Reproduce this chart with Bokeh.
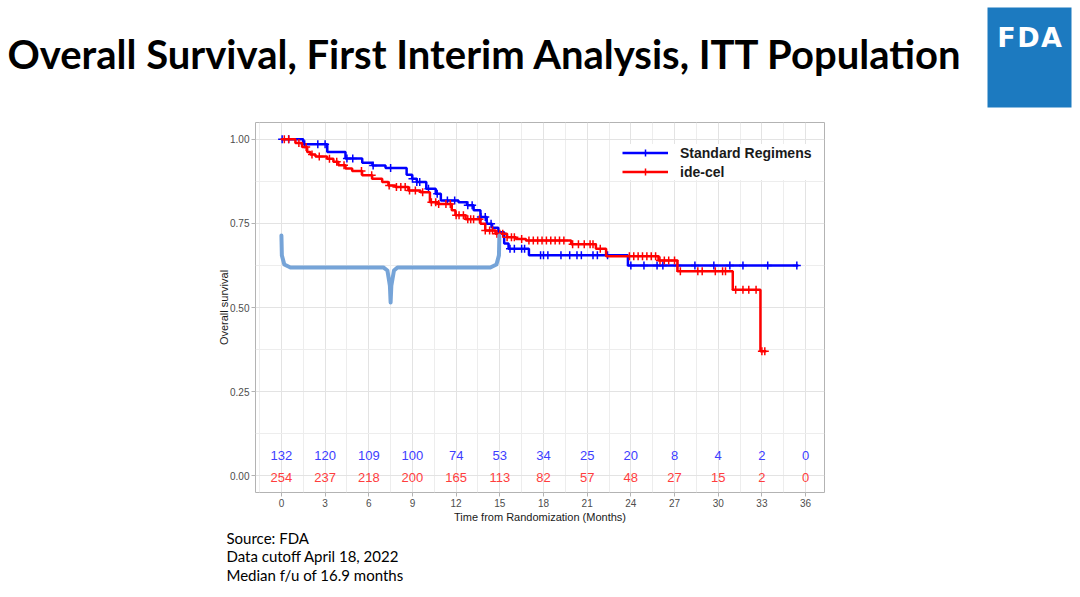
import numpy as np
from bokeh.plotting import figure
from bokeh.models import Range1d, FixedTicker, NumeralTickFormatter, Legend, LegendItem
from bokeh.layouts import column
from bokeh.embed import file_html
from bokeh.resources import INLINE
from bokeh.core.properties import value

# ---------------- data ----------------
title_text = "Overall Survival, First Interim Analysis, ITT Population"
logo_letters = ["F", "D", "A"]
source_lines = ["Source: FDA", "Data cutoff April 18, 2022", "Median f/u of 16.9 months"]

series_names = ["Standard Regimens", "ide-cel"]

std_time = [0, 1.5, 3.15, 4.4, 5.55, 6.25, 7.15, 8.6, 8.98, 9.3, 9.95, 10.6, 10.95, 12.16,
            12.75, 13.2, 13.67, 14.1, 14.47, 14.9, 15.3, 15.6, 17.0, 23.8, 35.5]
std_surv = [1.0, 0.985, 0.962, 0.943, 0.930, 0.922, 0.915, 0.895, 0.883, 0.873, 0.853, 0.838,
            0.818, 0.813, 0.804, 0.789, 0.769, 0.749, 0.737, 0.724, 0.69, 0.675, 0.655, 0.625, 0.625]
std_censor = [0.05, 0.5, 1.6, 2.5, 3.0, 4.5, 4.9, 6.3, 7.5, 9.0, 9.3, 9.5, 10.1, 10.7, 11.4,
              11.9, 12.8, 13.1, 13.7, 14.0, 14.4, 15.7, 16.0, 16.5, 16.7, 17.8, 18.0, 18.3,
              19.2, 19.8, 20.3, 20.6, 21.4, 21.7, 22.4, 24.0, 24.9, 25.8, 26.2, 27.2, 28.4,
              29.7, 30.8, 31.7, 33.4, 35.4]

ide_time = [0, 0.96, 1.42, 1.77, 1.99, 2.34, 3.14, 3.57, 3.91, 4.4, 4.86, 5.54, 6.23, 6.92,
            7.35, 7.83, 8.72, 9.55, 10.2, 10.75, 11.7, 11.95, 12.65, 13.67, 14.0, 14.7, 15.5,
            16.1, 16.8, 19.9, 21.6, 22.3, 25.9, 27.2, 31.0, 32.9, 33.3]
ide_surv = [1.0, 0.989, 0.977, 0.962, 0.955, 0.949, 0.942, 0.933, 0.923, 0.913, 0.906, 0.893,
            0.883, 0.873, 0.863, 0.858, 0.848, 0.843, 0.813, 0.808, 0.789, 0.774, 0.762, 0.749,
            0.729, 0.719, 0.709, 0.704, 0.699, 0.688, 0.675, 0.652, 0.640, 0.608, 0.553, 0.37, 0.37]
ide_censor = [0.2, 0.5, 1.2, 1.7, 2.1, 2.6, 3.3, 3.8, 4.3, 5.5, 6.2, 7.4, 7.9, 8.2, 8.5, 8.8,
              9.2, 9.7, 10.3, 10.6, 10.8, 11.3, 11.6, 12.0, 12.2, 12.5, 12.8, 13.0, 13.2, 13.6,
              14.0, 14.3, 14.5, 14.8, 15.0, 15.2, 15.5, 15.8, 16.0, 16.5, 17.0, 17.3, 17.6,
              17.9, 18.2, 18.5, 18.8, 19.1, 19.4, 20.0, 20.4, 20.8, 21.2, 21.4, 21.9, 23.9,
              24.2, 24.5, 24.8, 25.1, 25.4, 25.7, 26.0, 26.3, 26.6, 27.0, 27.4, 28.6, 28.9,
              29.8, 30.3, 30.5, 31.2, 31.7, 32.1, 32.6, 33.0, 33.2]

risk_months = [0, 3, 6, 9, 12, 15, 18, 21, 24, 27, 30, 33, 36]
std_at_risk = [132, 120, 109, 100, 74, 53, 34, 25, 20, 8, 4, 2, 0]
ide_at_risk = [254, 237, 218, 200, 165, 113, 82, 57, 48, 27, 15, 2, 0]

x_ticks = [0, 3, 6, 9, 12, 15, 18, 21, 24, 27, 30, 33, 36]
y_ticks = [0.0, 0.25, 0.5, 0.75, 1.0]

# curly-brace annotation shape (months, survival)
brace_x = [0.0, 0.03, 0.2, 0.62, 7.0, 7.28, 7.45, 7.5, 7.55, 7.73, 7.97, 14.35, 14.77, 14.94, 14.97]
brace_y = [0.714, 0.655, 0.628, 0.619, 0.619, 0.61, 0.565, 0.515, 0.565, 0.61, 0.619, 0.619,
           0.628, 0.655, 0.714]

BLUE = "#0000FF"
RED = "#FF0000"
FONT = "Liberation Sans"


def step_at(times, survs, t):
    idx = np.searchsorted(np.asarray(times), np.asarray(t), side="right") - 1
    return np.asarray(survs)[idx]


W = 1080
TOP_H, MID_H, BOT_H = 122, 406, 69


def deco_fig(h):
    f = figure(width=W, height=h, x_range=Range1d(0, W), y_range=Range1d(h, 0),
               x_axis_location=None, y_axis_location=None, toolbar_location=None,
               output_backend="svg", min_border=0, frame_align=False)
    f.grid.visible = False
    f.outline_line_color = None
    f.background_fill_color = "white"
    f.border_fill_color = "white"
    return f


# ---------------- header ----------------
top = deco_fig(TOP_H)
top.text(x=[7], y=[53], text=[title_text], text_font=value("Lato"), text_font_style="bold",
         text_font_size="40px", text_baseline="alphabetic", text_color="#000000")
top.quad(left=[987], right=[1071], top=[7], bottom=[107], fill_color="#1C7AC0", line_color=None)
top.text(x=[1006, 1028, 1051], y=[37, 37, 37], text=logo_letters, text_font=value("DejaVu Sans"),
         text_font_style="bold", text_font_size="27px", text_align="center",
         text_baseline="alphabetic", text_color="white")

# ---------------- KM plot ----------------
p = figure(width=W, height=MID_H, x_range=Range1d(-1.78, 37.3), y_range=Range1d(-0.05, 1.05),
           toolbar_location=None, output_backend="svg", frame_align=False,
           min_border_left=255, min_border_right=256, min_border_top=0, min_border_bottom=36)
p.outline_line_color = "#B3B3B3"
p.outline_line_width = 1
p.background_fill_color = "white"
p.border_fill_color = "white"

p.xaxis.ticker = FixedTicker(ticks=x_ticks, minor_ticks=[t - 1.5 for t in x_ticks])
p.yaxis.ticker = FixedTicker(ticks=y_ticks, minor_ticks=[0.125, 0.375, 0.625, 0.875])
p.yaxis.formatter = NumeralTickFormatter(format="0.00")
for ax in (p.xaxis, p.yaxis):
    ax.axis_line_color = None
    ax.major_tick_line_color = "#B3B3B3"
    ax.major_tick_in = 0
    ax.major_tick_out = 4
    ax.minor_tick_line_color = None
    ax.major_label_text_font = FONT
    ax.major_label_text_font_size = "10px"
    ax.major_label_text_color = "#4D4D4D"
    ax.major_label_standoff = 2
    ax.axis_label_text_font = FONT
    ax.axis_label_text_font_size = "11px"
    ax.axis_label_text_font_style = "normal"
    ax.axis_label_text_color = "#1A1A1A"
    ax.axis_label_standoff = 1
p.xaxis.axis_label = "Time from Randomization (Months)"
p.yaxis.axis_label = "Overall survival"
p.yaxis.axis_label_standoff = -3

p.grid.grid_line_color = "#E3E3E3"
p.grid.grid_line_width = 1
p.grid.minor_grid_line_color = "#EDEDED"
p.grid.minor_grid_line_width = 1

bl = p.step(x=std_time, y=std_surv, mode="after", line_color=BLUE, line_width=2.5)
bs = p.scatter(x=std_censor, y=step_at(std_time, std_surv, std_censor), marker="cross",
               size=8, line_color=BLUE, line_width=1.5)
rl = p.step(x=ide_time, y=ide_surv, mode="after", line_color=RED, line_width=2.5)
rs = p.scatter(x=ide_censor, y=step_at(ide_time, ide_surv, ide_censor), marker="cross",
               size=8, line_color=RED, line_width=1.5)

p.line(x=brace_x, y=brace_y, line_color="#6F9FD6", line_width=4, line_join="round",
       line_cap="round", line_alpha=0.95)

p.text(x=risk_months, y=[0.06] * len(risk_months), text=[str(v) for v in std_at_risk],
       text_align="center", text_baseline="middle", text_font=value(FONT),
       text_font_size="13px", text_color="#3D3DFF")
p.text(x=risk_months, y=[-0.004] * len(risk_months), text=[str(v) for v in ide_at_risk],
       text_align="center", text_baseline="middle", text_font=value(FONT),
       text_font_size="13px", text_color="#FF3D3D")

legend = Legend(items=[LegendItem(label=series_names[0], renderers=[bl, bs]),
                       LegendItem(label=series_names[1], renderers=[rl, rs])],
                location=(367, 312), glyph_width=46, glyph_height=17, label_height=17,
                spacing=2, padding=8, margin=0, label_standoff=12,
                label_text_font=FONT, label_text_font_style="bold",
                label_text_font_size="14px", label_text_color="#1A1A1A",
                border_line_color=None, background_fill_color="white",
                background_fill_alpha=1.0)
p.add_layout(legend)

# ---------------- footer ----------------
bot = deco_fig(BOT_H)
bot.text(x=[226, 226, 226], y=[9, 27, 46], text=source_lines, text_font=value("Lato"),
         text_font_size="15px", text_baseline="alphabetic", text_color="#000000")

layout = column(top, p, bot, spacing=0)
open("out.html", "w").write(file_html(layout, INLINE))
